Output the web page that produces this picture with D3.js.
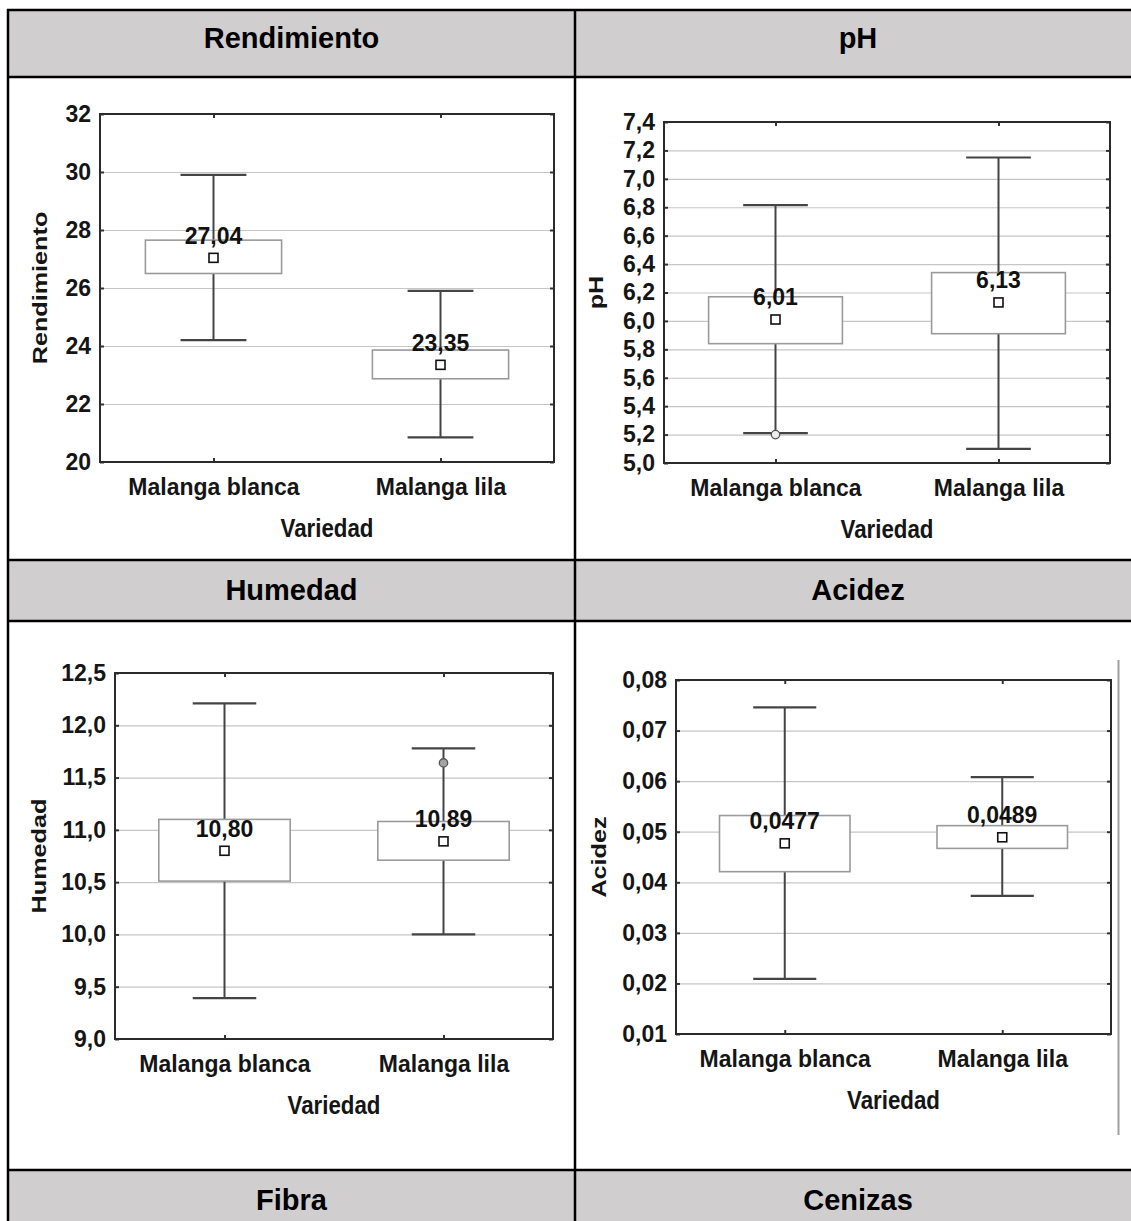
<!DOCTYPE html>
<html>
<head>
<meta charset="utf-8">
<script src="https://cdn.jsdelivr.net/npm/d3@7"></script>
<style>
  body { margin: 0; background: #fff; }
  svg { display: block; }
</style>
</head>
<body>
<script>
const categories = ["Malanga blanca", "Malanga lila"];

// Rendimiento
const rendTicks = [20, 22, 24, 26, 28, 30, 32];
const rendMean = [27.04, 23.35];
const rendBox = [[26.5, 27.65], [22.87, 23.86]];
const rendWhisker = [[24.2, 29.9], [20.85, 25.9]];
const rendOutliers = [[], []];

// pH
const phTicks = [5.0, 5.2, 5.4, 5.6, 5.8, 6.0, 6.2, 6.4, 6.6, 6.8, 7.0, 7.2, 7.4];
const phMean = [6.01, 6.13];
const phBox = [[5.84, 6.17], [5.91, 6.34]];
const phWhisker = [[5.21, 6.815], [5.10, 7.15]];
const phOutliers = [[5.2], []];

// Humedad
const humTicks = [9.0, 9.5, 10.0, 10.5, 11.0, 11.5, 12.0, 12.5];
const humMean = [10.80, 10.89];
const humBox = [[10.51, 11.10], [10.71, 11.08]];
const humWhisker = [[9.39, 12.21], [10.0, 11.78]];
const humOutliers = [[], [11.64]];

// Acidez
const acTicks = [0.01, 0.02, 0.03, 0.04, 0.05, 0.06, 0.07, 0.08];
const acMean = [0.0477, 0.0489];
const acBox = [[0.0421, 0.0532], [0.0467, 0.0512]];
const acWhisker = [[0.0209, 0.0746], [0.0373, 0.0608]];
const acOutliers = [[], []];

const headerRows = [["Rendimiento", "pH"], ["Humedad", "Acidez"], ["Fibra", "Cenizas"]];
const xLabel = "Variedad";

const W = 1131, H = 1221;
const FONT = "'Liberation Sans', Arial, Helvetica, sans-serif";
const locale = d3.formatLocale({decimal: ",", thousands: ".", grouping: [3], currency: ["", ""]});

const svg = d3.select("body").append("svg")
    .attr("width", W)
    .attr("height", H)
    .attr("viewBox", [0, 0, W, H])
    .style("font-family", FONT);

// ---- table ----
const colX = [8, 575, 1141];
const headerY = [[10, 77], [560, 621], [1170, 1240]];

headerY.forEach(([y0, y1], r) => {
  svg.append("rect")
      .attr("x", colX[0]).attr("y", y0)
      .attr("width", colX[2] - colX[0]).attr("height", y1 - y0)
      .attr("fill", "#d0cecf");
  headerRows[r].forEach((t, c) => {
    svg.append("text")
        .attr("x", (colX[c] + colX[c + 1]) / 2)
        .attr("y", (y0 + Math.min(y1, y0 + 61)) / 2 + 9.5 + (r === 0 ? -2 : 0))
        .attr("text-anchor", "middle")
        .attr("font-size", 29)
        .attr("font-weight", "bold")
        .attr("fill", "#000")
        .text(t);
  });
});

const tableLines = svg.append("g").attr("stroke", "#000").attr("stroke-width", 2.5);
[10, 77, 560, 621, 1170].forEach(y => {
  tableLines.append("line").attr("x1", colX[0] - 1).attr("x2", colX[2]).attr("y1", y).attr("y2", y);
});
[colX[0], colX[1]].forEach(x => {
  tableLines.append("line").attr("x1", x).attr("x2", x).attr("y1", 9).attr("y2", H);
});

// ---- panels ----
const panels = [
  {label: "Rendimiento", ticks: rendTicks, mean: rendMean, box: rendBox, whisker: rendWhisker, out: rendOutliers,
   tickFmt: "d", meanFmt: ".2f", l: 100, r: 554, t: 114, b: 462, titleX: 47, outFill: "#aaa"},
  {label: "pH", ticks: phTicks, mean: phMean, box: phBox, whisker: phWhisker, out: phOutliers,
   tickFmt: ".1f", meanFmt: ".2f", l: 664, r: 1110, t: 122, b: 463, titleX: 603, outFill: "#eee"},
  {label: "Humedad", ticks: humTicks, mean: humMean, box: humBox, whisker: humWhisker, out: humOutliers,
   tickFmt: ".1f", meanFmt: ".2f", l: 115, r: 553, t: 673, b: 1039, titleX: 46, outFill: "#a4a4a4"},
  {label: "Acidez", ticks: acTicks, mean: acMean, box: acBox, whisker: acWhisker, out: acOutliers,
   tickFmt: ".2f", meanFmt: ".4f", l: 676, r: 1111, t: 680, b: 1034, titleX: 606, outFill: "#aaa"}
];

panels.forEach(p => {
  const g = svg.append("g");
  const x = d3.scalePoint(categories, [p.l, p.r]).padding(0.5);
  const y = d3.scaleLinear([p.ticks[0], p.ticks[p.ticks.length - 1]], [p.b, p.t]);
  const step = x.step();
  const boxW = step * 0.6, capW = step * 0.29;
  const idx = d3.range(categories.length);
  const cx = i => x(categories[i]);

  // grid lines
  g.append("g")
      .attr("transform", `translate(${p.l},0)`)
      .call(d3.axisLeft(y).tickValues(p.ticks.slice(1, -1)).tickSize(-(p.r - p.l)).tickFormat(""))
      .call(a => a.select(".domain").remove())
      .call(a => a.selectAll("line").attr("stroke", "#c6c6c6").attr("stroke-width", 1.2));

  // small inner ticks on the frame
  const stub = a => a.call(s => s.select(".domain").remove())
      .call(s => s.selectAll("line").attr("stroke", "#333").attr("stroke-width", 2));
  g.append("g").attr("transform", `translate(${p.l},0)`)
      .call(d3.axisLeft(y).tickValues(p.ticks).tickSize(-4).tickFormat("")).call(stub);
  g.append("g").attr("transform", `translate(${p.r},0)`)
      .call(d3.axisRight(y).tickValues(p.ticks).tickSize(-4).tickFormat("")).call(stub);
  g.append("g").attr("transform", `translate(0,${p.t})`)
      .call(d3.axisTop(x).tickSize(-4).tickFormat("")).call(stub);
  g.append("g").attr("transform", `translate(0,${p.b})`)
      .call(d3.axisBottom(x).tickSize(-4).tickFormat("")).call(stub);

  // y tick labels
  g.append("g")
      .attr("transform", `translate(${p.l},0)`)
      .call(d3.axisLeft(y).tickValues(p.ticks).tickSize(0).tickPadding(9).tickFormat(locale.format(p.tickFmt)))
      .call(a => a.select(".domain").remove())
      .attr("font-family", FONT)
      .attr("font-size", 23)
      .attr("font-weight", "bold")
      .call(a => a.selectAll("text").attr("fill", "#151515"));

  // category labels
  g.append("g")
      .attr("transform", `translate(0,${p.b})`)
      .call(d3.axisBottom(x).tickSize(0).tickPadding(17))
      .call(a => a.select(".domain").remove())
      .attr("font-family", FONT)
      .attr("font-size", 23)
      .attr("font-weight", "bold")
      .call(a => a.selectAll("text").attr("fill", "#151515"));

  // axis titles
  g.append("text")
      .attr("transform", `translate(${(p.l + p.r) / 2},${p.b + 75}) scale(0.93,1.08)`)
      .attr("text-anchor", "middle")
      .attr("font-size", 24)
      .attr("font-weight", "bold")
      .attr("fill", "#151515")
      .text(xLabel);

  g.append("text")
      .attr("transform", `translate(${p.titleX},${(p.t + p.b) / 2}) rotate(-90) scale(1.2,1)`)
      .attr("text-anchor", "middle")
      .attr("font-size", 21)
      .attr("font-weight", "bold")
      .attr("fill", "#151515")
      .text(p.label);

  // whiskers
  g.selectAll(".whisker").data(idx).join("line")
      .attr("x1", cx).attr("x2", cx)
      .attr("y1", i => y(p.whisker[i][0]))
      .attr("y2", i => y(p.whisker[i][1]))
      .attr("stroke", "#444").attr("stroke-width", 2);

  g.selectAll(".cap").data(idx.flatMap(i => [[i, 0], [i, 1]])).join("line")
      .attr("x1", ([i]) => cx(i) - capW / 2)
      .attr("x2", ([i]) => cx(i) + capW / 2)
      .attr("y1", ([i, k]) => y(p.whisker[i][k]))
      .attr("y2", ([i, k]) => y(p.whisker[i][k]))
      .attr("stroke", "#444").attr("stroke-width", 2.2);

  // boxes
  g.selectAll(".box").data(idx).join("rect")
      .attr("x", i => cx(i) - boxW / 2)
      .attr("width", boxW)
      .attr("y", i => y(p.box[i][1]))
      .attr("height", i => y(p.box[i][0]) - y(p.box[i][1]))
      .attr("fill", "#fff")
      .attr("stroke", "#9a9a9a")
      .attr("stroke-width", 1.6);

  // outliers
  g.selectAll(".out").data(idx.flatMap(i => p.out[i].map(v => [i, v]))).join("circle")
      .attr("cx", ([i]) => cx(i))
      .attr("cy", ([, v]) => y(v))
      .attr("r", 4.2)
      .attr("fill", p.outFill)
      .attr("stroke", "#555")
      .attr("stroke-width", 1.3);

  // means
  g.selectAll(".mean").data(idx).join("rect")
      .attr("x", i => cx(i) - 4.5)
      .attr("y", i => y(p.mean[i]) - 4.5)
      .attr("width", 9).attr("height", 9)
      .attr("fill", "#fff")
      .attr("stroke", "#111")
      .attr("stroke-width", 1.6);

  g.selectAll(".meanLabel").data(idx).join("text")
      .attr("x", cx)
      .attr("y", i => y(p.mean[i]) - 14)
      .attr("text-anchor", "middle")
      .attr("font-size", 23)
      .attr("font-weight", "bold")
      .attr("fill", "#111")
      .text(i => locale.format(p.meanFmt)(p.mean[i]));

  // frame
  g.append("rect")
      .attr("x", p.l).attr("y", p.t)
      .attr("width", p.r - p.l).attr("height", p.b - p.t)
      .attr("fill", "none")
      .attr("stroke", "#2b2b2b")
      .attr("stroke-width", 2);
});

// stray border line visible beside the Acidez chart
svg.append("line")
    .attr("x1", 1118.5).attr("x2", 1118.5)
    .attr("y1", 660).attr("y2", 1135)
    .attr("stroke", "#a0a0a0")
    .attr("stroke-width", 2);
</script>
</body>
</html>
